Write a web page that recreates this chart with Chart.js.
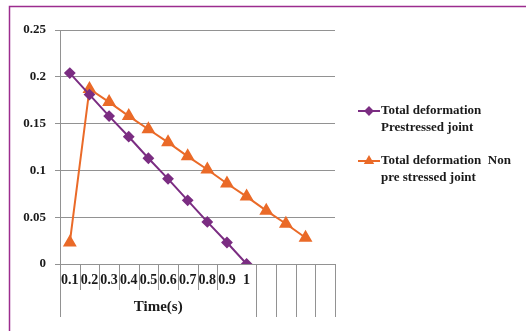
<!DOCTYPE html>
<html>
<head>
<meta charset="utf-8">
<script src="https://cdn.jsdelivr.net/npm/chart.js@4"></script>
<style>
  html, body { margin: 0; padding: 0; background: #ffffff; }
  canvas { display: block; }
</style>
</head>
<body>
<canvas id="c" width="526" height="331"></canvas>
<script>
// Time steps (s); the last four category slots stay empty
const categories = ['0.1', '0.2', '0.3', '0.4', '0.5', '0.6', '0.7', '0.8', '0.9', '1', '', '', '', ''];
// Total deformation values
const prestressed = [0.204, 0.181, 0.158, 0.136, 0.113, 0.091, 0.068, 0.045, 0.023, 0];
const nonPrestressed = [0.023, 0.187, 0.173, 0.158, 0.144, 0.130, 0.115, 0.101, 0.086, 0.072, 0.057, 0.043, 0.028];
const yTickLabels = ['0', '0.05', '0.1', '0.15', '0.2', '0.25'];
const legendLines = [
  ['Total deformation', 'Prestressed joint'],
  ['Total deformation  Non', 'pre stressed joint']
];
const axisTitle = 'Time(s)';

const PURPLE = '#7b2d82';
const ORANGE = '#ea6a28';
const FRAME = '#9c2c8e';
const GRID = '#929292';
const FONT = '"Liberation Serif", "Times New Roman", serif';

// Frame, category tick marks, axis title and the legend block
const decorations = {
  id: 'decorations',
  beforeDraw(chart) {
    const ctx = chart.ctx;
    ctx.save();
    ctx.fillStyle = '#ffffff';
    ctx.fillRect(0, 0, chart.width, chart.height);
    ctx.strokeStyle = FRAME;
    ctx.lineWidth = 1.5;
    ctx.beginPath();
    ctx.moveTo(9.5, chart.height);
    ctx.lineTo(9.5, 6.5);
    ctx.lineTo(chart.width, 6.5);
    ctx.stroke();
    ctx.restore();
  },
  afterDraw(chart) {
    const ctx = chart.ctx;
    const area = chart.chartArea;
    const n = categories.length;
    const step = (area.right - area.left) / n;
    ctx.save();
    ctx.strokeStyle = GRID;
    ctx.lineWidth = 1;
    for (let k = 0; k <= n; k++) {
      if (k === 9) continue;
      const px = Math.round(area.left + step * k) + 0.5;
      const long = (k === 0 || k >= 10);
      ctx.beginPath();
      ctx.moveTo(px, area.bottom);
      ctx.lineTo(px, long ? 317 : 290);
      ctx.stroke();
    }
    // axis title centred over the labelled time steps
    ctx.fillStyle = '#1a1a1a';
    ctx.font = 'bold 15px ' + FONT;
    ctx.textAlign = 'center';
    ctx.textBaseline = 'middle';
    ctx.fillText(axisTitle, (area.left + area.left + step * 10) / 2, 307);

    // legend
    const rows = [111, 161];
    chart.data.datasets.forEach((ds, i) => {
      const y = rows[i];
      ctx.strokeStyle = ds.borderColor;
      ctx.lineWidth = 2;
      ctx.beginPath();
      ctx.moveTo(358, y);
      ctx.lineTo(380, y);
      ctx.stroke();
      ctx.fillStyle = ds.borderColor;
      ctx.strokeStyle = ds.borderColor;
      Chart.helpers.drawPoint(ctx, {
        pointStyle: ds.pointStyle, radius: i === 0 ? 3.5 : 4, rotation: 0, borderWidth: 1
      }, 369, y);
      ctx.fillStyle = '#1a1a1a';
      ctx.font = 'bold 13px ' + FONT;
      ctx.textAlign = 'left';
      ctx.textBaseline = 'middle';
      legendLines[i].forEach((line, j) => {
        ctx.fillText(line, 381, y + j * 17);
      });
    });
    ctx.restore();
  }
};

new Chart(document.getElementById('c'), {
  type: 'line',
  data: {
    labels: categories,
    datasets: [
      {
        label: legendLines[0].join(' '),
        data: prestressed,
        borderColor: PURPLE,
        backgroundColor: PURPLE,
        borderWidth: 2,
        pointStyle: 'rectRot',
        pointRadius: 4.5,
        pointHoverRadius: 4.5,
        tension: 0
      },
      {
        label: legendLines[1].join(' '),
        data: nonPrestressed,
        borderColor: ORANGE,
        backgroundColor: ORANGE,
        borderWidth: 2,
        pointStyle: 'triangle',
        pointRadius: 6,
        pointHoverRadius: 6,
        tension: 0
      }
    ]
  },
  options: {
    responsive: false,
    animation: false,
    events: [],
    layout: { padding: { left: 0, top: 30, right: 191, bottom: 0 } },
    plugins: {
      legend: { display: false },
      title: { display: false },
      tooltip: { enabled: false }
    },
    scales: {
      x: {
        type: 'category',
        offset: true,
        afterFit(scale) { scale.height = 67; },
        grid: { display: false, drawOnChartArea: false, drawTicks: false },
        border: { display: true, color: GRID, width: 1 },
        ticks: {
          autoSkip: false,
          maxRotation: 0,
          minRotation: 0,
          padding: 8,
          color: '#1a1a1a',
          font: { family: FONT, size: 14, weight: 'bold' }
        }
      },
      y: {
        min: 0,
        max: 0.25,
        afterFit(scale) { scale.width = 60; },
        afterBuildTicks(scale) {
          scale.ticks = yTickLabels.map(v => ({ value: parseFloat(v) }));
        },
        grid: { color: GRID, lineWidth: 1, tickLength: 5, drawTicks: true },
        border: { display: true, color: GRID, width: 1 },
        ticks: {
          padding: 9,
          color: '#1a1a1a',
          font: { family: FONT, size: 13, weight: 'bold' },
          callback(value, index) { return yTickLabels[index]; }
        }
      }
    }
  },
  plugins: [decorations]
});
</script>
</body>
</html>
